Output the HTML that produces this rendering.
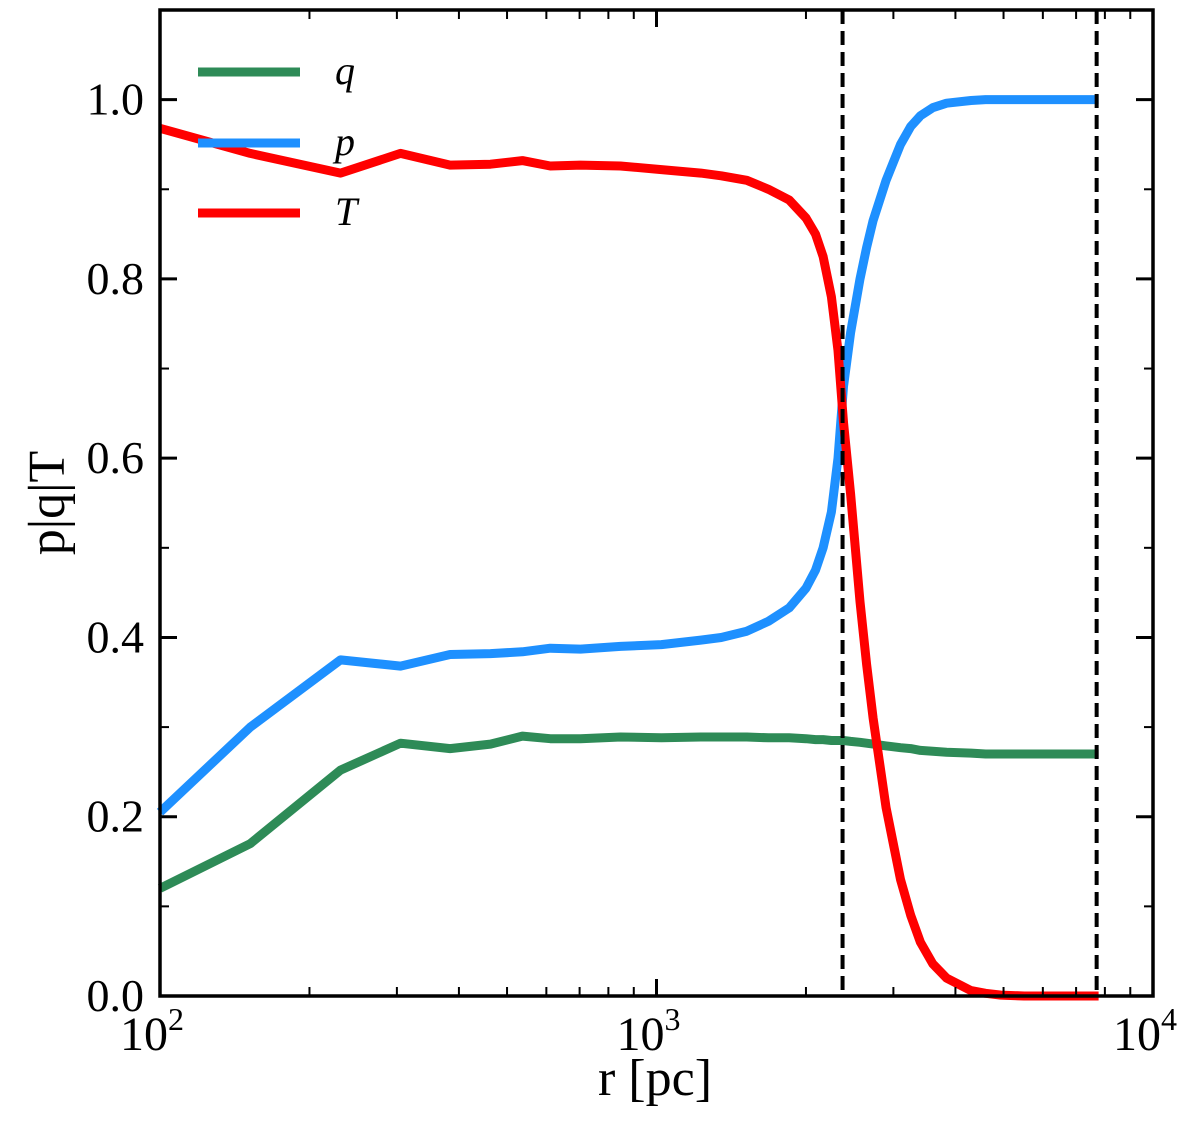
<!DOCTYPE html>
<html><head><meta charset="utf-8"><style>
body{margin:0;background:#fff}
svg text{font-family:"Liberation Serif","DejaVu Serif",serif;fill:#000}
</style></head><body>
<svg id="chart" width="1200" height="1123" xmlns="http://www.w3.org/2000/svg"></svg>
<script>
const radii=[100,152,231,305,384,463,537,611,703,846,1023,1228,1350,1520,1680,1850,2000,2090,2165,2250,2320,2380,2460,2570,2650,2730,2900,3100,3250,3400,3600,3840,4300,4600,4940,5500,6500,7770];
const tValues=[0.968,0.94,0.918,0.94,0.927,0.928,0.932,0.926,0.927,0.926,0.922,0.918,0.915,0.91,0.9,0.888,0.868,0.85,0.825,0.78,0.72,0.64,0.56,0.44,0.37,0.31,0.21,0.13,0.09,0.06,0.036,0.02,0.006,0.003,0.001,0,0,0];
const pValues=[0.205,0.3,0.375,0.368,0.381,0.382,0.384,0.388,0.387,0.39,0.392,0.397,0.4,0.407,0.418,0.433,0.455,0.475,0.5,0.54,0.6,0.68,0.74,0.8,0.835,0.865,0.91,0.95,0.97,0.982,0.991,0.996,0.999,1.0,1.0,1.0,1.0,1.0];
const qValues=[0.12,0.17,0.252,0.282,0.276,0.281,0.29,0.287,0.287,0.289,0.288,0.289,0.289,0.289,0.288,0.288,0.287,0.286,0.286,0.285,0.285,0.285,0.284,0.283,0.282,0.281,0.279,0.277,0.276,0.274,0.273,0.272,0.271,0.27,0.27,0.27,0.27,0.27];
const vlines=[2370,7700];
const yTicks=[0,0.2,0.4,0.6,0.8,1.0];
const yTickLabels=["0.0","0.2","0.4","0.6","0.8","1.0"];
const xDecades=[2,3,4];

const L=160,R=1153,T=10,B=996;
const X=r=>L+(Math.log10(r)-2)/2*(R-L);
const Y=v=>B-v/1.1*(B-T);
const svg=document.getElementById('chart');
const NS='http://www.w3.org/2000/svg';
function mk(tag,attrs,parent){const e=document.createElementNS(NS,tag);for(const k in attrs)e.setAttribute(k,attrs[k]);(parent||svg).appendChild(e);return e;}

function series(vals,color,name){
  const d=radii.map((r,i)=>(i?'L':'M')+X(r).toFixed(1)+','+Y(vals[i]).toFixed(1)).join('');
  const p=mk('path',{d:d,fill:'none',stroke:color,'stroke-width':9,'stroke-linejoin':'round'});
  
  
}
series(qValues,'#2e8b57','q-line');
series(pValues,'#1e90ff','p-line');
series(tValues,'#ff0000','t-line');

vlines.forEach(v=>{
  const l=mk('line',{x1:X(v),x2:X(v),y1:T,y2:B,stroke:'#000','stroke-width':4,'stroke-dasharray':'14,7'});
  
  
});

const frame=mk('rect',{x:L,y:T,width:R-L,height:B-T,fill:'none',stroke:'#000','stroke-width':3.5});



yTicks.forEach((v,i)=>{
  mk('line',{x1:L,x2:L+17,y1:Y(v),y2:Y(v),stroke:'#000','stroke-width':3});
  mk('line',{x1:R,x2:R-17,y1:Y(v),y2:Y(v),stroke:'#000','stroke-width':3});
  const t=mk('text',{x:L-16,y:Y(v)+15,'text-anchor':'end','font-size':46});
  t.textContent=yTickLabels[i];
  
  
});
for(let v=0.1;v<1.1;v+=0.2){
  mk('line',{x1:L,x2:L+9,y1:Y(v),y2:Y(v),stroke:'#000','stroke-width':2});
  mk('line',{x1:R,x2:R-9,y1:Y(v),y2:Y(v),stroke:'#000','stroke-width':2});
}
xDecades.forEach(d=>{
  const x=X(Math.pow(10,d));
  mk('line',{x1:x,x2:x,y1:B,y2:B-17,stroke:'#000','stroke-width':3});
  mk('line',{x1:x,x2:x,y1:T,y2:T+17,stroke:'#000','stroke-width':3});
  const t=mk('text',{x:x-8,y:B+54,'text-anchor':'middle','font-size':48});
  t.textContent='10';
  const s=mk('tspan',{dy:-20,'font-size':32},t);s.textContent=String(d);
  
  
  if(d<4)for(let m=2;m<10;m++){
    const xm=X(m*Math.pow(10,d));
    mk('line',{x1:xm,x2:xm,y1:B,y2:B-9,stroke:'#000','stroke-width':2});
    mk('line',{x1:xm,x2:xm,y1:T,y2:T+9,stroke:'#000','stroke-width':2});
  }
});

const xl=mk('text',{x:655,y:1095,'text-anchor':'middle','font-size':52});
xl.textContent='r [pc]';


const yl=mk('text',{x:64,y:503,'text-anchor':'middle','font-size':52,transform:'rotate(-90 64 503)'});
yl.textContent='p|q|T';



[['q','#2e8b57',72],['p','#1e90ff',143],['T','#ff0000',213]].forEach(([n,c,y])=>{
  const g=mk('g',{});
  
  
  mk('line',{x1:198,x2:300,y1:y,y2:y,stroke:c,'stroke-width':9},g);
  const t=mk('text',{x:335,y:y+12,'font-size':40,'font-style':'italic'},g);
  t.textContent=n;
});
</script>
</body></html>
